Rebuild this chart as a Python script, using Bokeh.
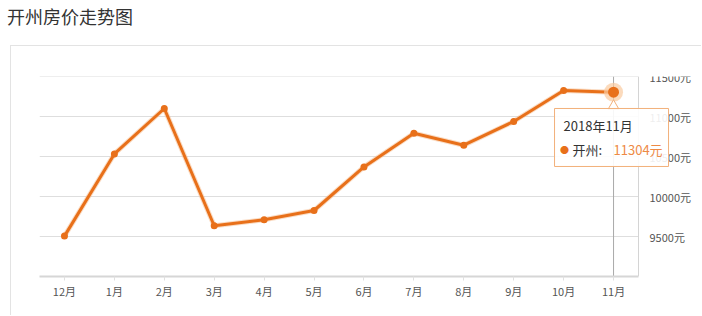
from bokeh.plotting import figure
from bokeh.models import Range1d, FixedTicker, Span, Div, ColumnDataSource
from bokeh.layouts import column
from bokeh.embed import file_html
from bokeh.resources import INLINE

# ---- data ----
months = ["12月", "1月", "2月", "3月", "4月", "5月", "6月", "7月", "8月", "9月", "10月", "11月"]
prices = [9505, 10532, 11100, 9634, 9709, 9825, 10370, 10791, 10641, 10938, 11325, 11304]
y_ticks = [9500, 10000, 10500, 11000, 11500]
y_tick_labels = ["9500元", "10000元", "10500元", "11000元", "11500元"]
title_text = "开州房价走势图"
series_name = "开州"
hover_label = "2018年11月"

FONT = "Noto Sans CJK SC"
ORANGE = "#e8701a"

n = len(months)
idx = list(range(n))
src = ColumnDataSource(dict(x=idx, y=prices))
last_x, last_y = idx[-1], prices[-1]

Y0, Y1 = 9000, 11500
FRAME_H = 200
CELL_W = 599 / n              # px per category
px_y = FRAME_H / (Y1 - Y0)    # px per yuan

p = figure(width=691, height=270,
           x_range=Range1d(-0.5, -0.5 + 663 / CELL_W), y_range=Range1d(Y0, Y1),
           output_backend="svg", toolbar_location=None,
           min_border_left=28, min_border_right=0, min_border_top=30, min_border_bottom=40,
           margin=(0, 0, 0, 10),
           styles={"border-top": "1px solid #e3e3e3", "border-left": "1px solid #e3e3e3"})
p.outline_line_color = None
p.background_fill_color = "white"
p.border_fill_color = "white"
p.xgrid.visible = False
p.ygrid.visible = False
p.yaxis.visible = False

x_left, x_right = -0.5, n - 0.5

# horizontal grid lines
p.segment(x0=[x_left] * len(y_ticks), x1=[x_right] * len(y_ticks), y0=y_ticks, y1=y_ticks,
          line_color="#dedede", line_width=1)

p.xaxis.ticker = FixedTicker(ticks=idx)
p.xaxis.bounds = (x_left, x_right)
p.xaxis.major_label_overrides = {i: m for i, m in enumerate(months)}
p.xaxis.axis_line_color = "#d6d6d6"
p.xaxis.axis_line_width = 2
p.xaxis.major_tick_line_color = "#e0e0e0"
p.xaxis.major_tick_out = 4
p.xaxis.major_tick_in = 0
p.xaxis.minor_tick_line_color = None
p.xaxis.major_label_standoff = 2
p.xaxis.major_label_text_font = FONT
p.xaxis.major_label_text_font_size = "11px"
p.xaxis.major_label_text_color = "#555555"

# right edge of plot area
p.segment(x0=[x_right], x1=[x_right], y0=[Y0], y1=[Y1], line_color="#d4d4d4", line_width=1)

# y tick labels (right side)
p.text(x=[x_right] * len(y_ticks), y=y_ticks, text=y_tick_labels, x_offset=11,
       text_baseline="middle", text_align="left", text_font={"value": FONT},
       text_font_size="11px", text_color="#555555")

# crosshair
p.segment(x0=[last_x], x1=[last_x], y0=[Y0], y1=[Y1], line_color="#aaaaaa", line_width=1)

# series
p.line("x", "y", source=src, line_color="#f6b98a", line_width=5, line_alpha=0.5)
p.line("x", "y", source=src, line_color=ORANGE, line_width=3)
p.scatter("x", "y", source=src, size=7, fill_color=ORANGE, line_color=None)

# highlighted point
p.scatter([last_x], [last_y], size=19, fill_color="#f9caa0", fill_alpha=0.7, line_color=None)
p.scatter([last_x], [last_y], size=11, fill_color=ORANGE, line_color=None)

# tooltip (pixel offsets from the highlighted point)
tip_border = "#f2b07a"
p.scatter([last_x], [last_y - 14 / px_y], marker="triangle", size=11,
          fill_color="white", line_color=tip_border, line_width=1)
p.rect(x=[last_x - 2 / CELL_W], y=[last_y - 45.3 / px_y], width=114, height=58,
       width_units="screen", height_units="screen",
       fill_color="white", fill_alpha=0.9, line_color=tip_border, line_width=1)
p.text(x=[last_x], y=[last_y], text=[hover_label], x_offset=-50, y_offset=33,
       text_baseline="middle", text_align="left", text_font={"value": FONT},
       text_font_size="13px", text_color="#333333")
p.text(x=[last_x], y=[last_y], text=["●"], x_offset=-49, y_offset=57,
       text_baseline="middle", text_align="center", text_font={"value": FONT},
       text_font_size="9px", text_color=ORANGE)
p.text(x=[last_x], y=[last_y], text=[series_name + ":"], x_offset=-41, y_offset=57,
       text_baseline="middle", text_align="left", text_font={"value": FONT},
       text_font_size="13px", text_color="#333333")
p.text(x=[last_x], y=[last_y], text=[f"{last_y}元"], x_offset=0, y_offset=57,
       text_baseline="middle", text_align="left", text_font={"value": FONT},
       text_font_size="13px", text_color="#ee8a45")

title = Div(text=f'<div style="font-family:\'{FONT}\';font-size:18px;color:#333;margin:4px 0 0 7px;white-space:nowrap">{title_text}</div>',
            width=702, height=45, margin=(0, 0, 0, 0))

layout = column(title, p, margin=(0, 0, 0, 0))
open("out.html", "w").write(file_html(layout, INLINE))
